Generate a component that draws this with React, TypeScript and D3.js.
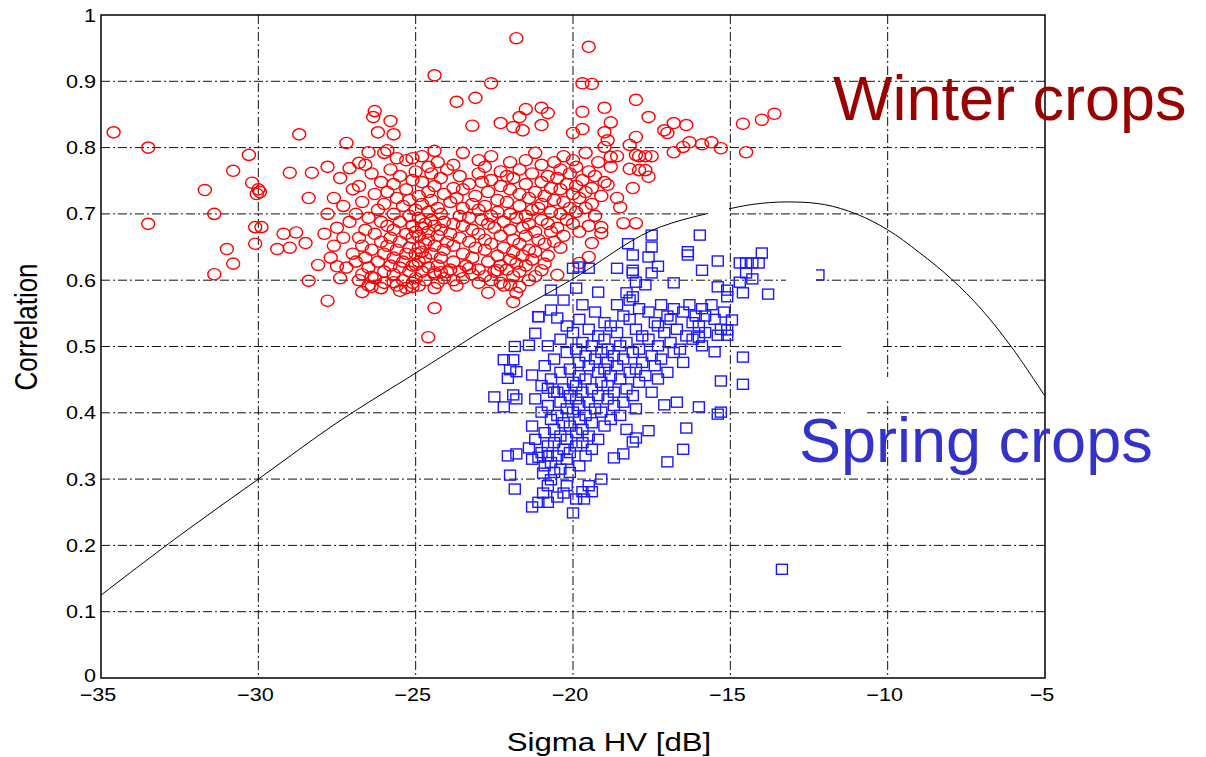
import React from 'react'
import * as d3 from 'd3'

const W = 1206
const H = 757
const M = { left: 101, right: 1045, top: 15, bottom: 678 }

const X_TICKS = [-35, -30, -25, -20, -15, -10, -5]
const Y_TICKS = [0, 0.1, 0.2, 0.3, 0.4, 0.5, 0.6, 0.7, 0.8, 0.9, 1]

// separation curve (Sigma HV, correlation)
const curveX = [-35, -32.5, -30, -27.5, -25, -24.2, -22.5, -20, -17.5, -15, -14, -13, -12, -11, -10, -9, -8, -7, -6, -5]
const curveY = [0.125, 0.215, 0.3, 0.385, 0.46, 0.484, 0.535, 0.602, 0.675, 0.708, 0.716, 0.718, 0.714, 0.7, 0.676, 0.642, 0.603, 0.555, 0.495, 0.425]

// winter crops, scattered points
const winterOutliers: [number, number][] = [
  [-34.6, 0.823], [-33.5, 0.8], [-33.5, 0.685], [-31.7, 0.736], [-31.4, 0.7], [-31.0, 0.647], [-30.8, 0.625],
  [-31.4, 0.609], [-30.8, 0.765], [-30.3, 0.789], [-30.2, 0.747], [-30.0, 0.737], [-29.95, 0.733], [-30.05, 0.73],
  [-30.1, 0.68], [-29.9, 0.68], [-30.1, 0.655], [-29.4, 0.647], [-29.0, 0.649], [-29.2, 0.67], [-28.8, 0.672],
  [-28.7, 0.82], [-29.0, 0.762], [-28.3, 0.762], [-27.8, 0.771], [-28.4, 0.724], [-28.5, 0.656], [-28.4, 0.599],
  [-27.8, 0.569], [-28.1, 0.623], [-27.5, 0.621], [-27.2, 0.807], [-27.1, 0.769], [-26.8, 0.777], [-26.5, 0.793],
  [-26.3, 0.855], [-26.35, 0.846], [-25.8, 0.84], [-26.2, 0.823], [-25.7, 0.82], [-25.9, 0.796], [-25.6, 0.784],
  [-25.1, 0.784], [-24.4, 0.795], [-24.4, 0.909], [-24.4, 0.558], [-24.6, 0.514], [-26.7, 0.582], [-26.4, 0.59],
  [-25.7, 0.597], [-25.5, 0.584], [-25.1, 0.59], [-26.4, 0.605], [-25.0, 0.623],
  [-21.8, 0.965], [-19.5, 0.952], [-22.6, 0.897], [-19.7, 0.897], [-19.4, 0.896], [-23.7, 0.869], [-23.1, 0.875],
  [-18.0, 0.872], [-21.5, 0.858], [-21.0, 0.86], [-20.8, 0.852], [-21.7, 0.846], [-19.7, 0.854], [-19.0, 0.86],
  [-17.6, 0.846], [-23.2, 0.833], [-22.3, 0.837], [-21.9, 0.831], [-21.6, 0.826], [-21.0, 0.834], [-18.8, 0.838],
  [-20.0, 0.822], [-19.7, 0.828], [-19.0, 0.823], [-18.9, 0.811], [-18.0, 0.816], [-18.2, 0.804], [-17.1, 0.826],
  [-17.0, 0.822], [-16.8, 0.837], [-16.4, 0.834], [-16.3, 0.808], [-16.5, 0.801], [-16.8, 0.793], [-15.9, 0.805],
  [-15.6, 0.808], [-15.3, 0.799], [-14.6, 0.836], [-14.0, 0.842], [-13.6, 0.851], [-14.5, 0.793], [-19.0, 0.801],
  [-18.8, 0.786], [-18.6, 0.787], [-18.0, 0.789], [-17.9, 0.787], [-17.7, 0.787], [-17.5, 0.787], [-18.2, 0.768],
  [-17.9, 0.766], [-17.7, 0.766], [-17.6, 0.756], [-18.1, 0.739], [-18.4, 0.686], [-18.0, 0.686], [-18.6, 0.724],
  [-18.5, 0.71], [-18.9, 0.744], [-19.1, 0.68], [-19.1, 0.671], [-19.4, 0.656], [-19.5, 0.635], [-19.8, 0.626],
  [-22.7, 0.581], [-22.3, 0.596], [-22.0, 0.593], [-21.7, 0.59], [-21.9, 0.567], [-21.8, 0.581], [-23.3, 0.618],
  [-22.4, 0.615], [-21.0, 0.615], [-20.5, 0.608], [-24.4, 0.612], [-24.2, 0.612], [-24.0, 0.612],
]

// winter crops, dense core: [correlation, sigma values...]
const winterCore: [number, number[]][] = [
  [0.792, [-26.0, -23.5, -21.2, -19.6]],
  [0.787, [-24.8, -22.6, -20.3]],
  [0.781, [-25.3, -23.0, -21.5, -20.0]],
  [0.778, [-24.3, -22.0, -20.6, -19.2]],
  [0.774, [-26.6, -23.8, -21.0]],
  [0.771, [-24.6, -22.8, -19.9, -18.8]],
  [0.767, [-25.8, -24.0, -21.7, -20.4]],
  [0.764, [-25.0, -22.3, -19.5]],
  [0.761, [-26.4, -24.5, -23.0, -21.3, -20.1]],
  [0.757, [-25.5, -23.6, -22.1, -20.8, -19.3]],
  [0.754, [-27.4, -24.2, -21.9, -20.5]],
  [0.751, [-25.1, -22.6, -19.7]],
  [0.748, [-26.1, -24.8, -22.9, -21.0, -19.0]],
  [0.745, [-25.7, -23.3, -21.5, -20.2]],
  [0.742, [-26.8, -24.4, -22.3, -19.9]],
  [0.739, [-23.8, -20.7, -19.4]],
  [0.737, [-27.0, -25.3, -23.5, -22.0, -20.4]],
  [0.733, [-25.9, -24.6, -22.7, -21.2, -19.6]],
  [0.73, [-26.3, -24.1, -21.7, -20.0]],
  [0.727, [-24.9, -23.1, -20.9, -19.1]],
  [0.724, [-27.6, -25.6, -23.7, -21.4, -19.8]],
  [0.721, [-25.2, -24.5, -22.4, -20.6]],
  [0.718, [-26.7, -23.9, -22.1, -20.3]],
  [0.715, [-26.0, -24.8, -23.2, -21.0, -19.4]],
  [0.712, [-27.3, -25.4, -22.8, -21.7]],
  [0.709, [-24.3, -23.5, -21.1, -20.1, -19.6]],
  [0.706, [-26.2, -25.0, -23.0, -21.3]],
  [0.703, [-24.6, -22.4, -20.7, -19.9]],
  [0.7, [-27.8, -26.9, -25.7, -24.2, -22.0, -20.4]],
  [0.697, [-25.2, -23.6, -22.6, -21.5, -19.3]],
  [0.694, [-26.5, -24.9, -23.3, -21.8]],
  [0.691, [-24.5, -22.9, -21.0, -20.2]],
  [0.688, [-27.1, -26.1, -25.5, -24.1, -22.2]],
  [0.685, [-24.7, -23.8, -22.7, -21.4, -20.8, -20.0]],
  [0.682, [-25.9, -25.1, -24.4, -23.5, -19.5]],
  [0.679, [-27.5, -24.8, -22.5, -21.6, -20.5]],
  [0.676, [-26.6, -25.7, -24.2, -23.2, -22.0]],
  [0.673, [-25.0, -24.6, -21.2, -20.7, -19.8]],
  [0.67, [-27.9, -26.3, -25.3, -23.9, -23.0]],
  [0.667, [-24.9, -24.3, -22.3, -21.5, -20.3]],
  [0.664, [-27.3, -26.8, -25.8, -25.1, -23.6]],
  [0.661, [-24.6, -22.8, -21.9, -21.1]],
  [0.658, [-26.1, -25.5, -24.0, -23.3, -20.6]],
  [0.655, [-24.7, -22.6, -21.7, -20.9]],
  [0.652, [-27.6, -26.7, -25.9, -24.4, -23.8]],
  [0.649, [-25.2, -24.9, -23.1, -22.2, -20.4]],
  [0.646, [-26.4, -25.6, -24.1, -22.8, -21.4]],
  [0.643, [-24.8, -21.9, -21.2]],
  [0.64, [-27.0, -26.0, -25.3, -25.0, -24.5, -23.5]],
  [0.637, [-22.4, -21.6, -20.8]],
  [0.634, [-27.7, -26.6, -25.7, -24.7, -24.2, -23.2]],
  [0.631, [-22.0, -21.3]],
  [0.628, [-26.9, -26.2, -25.4, -24.9, -23.8, -22.7]],
  [0.625, [-21.8, -20.9]],
  [0.622, [-25.8, -25.1, -24.3, -23.4, -22.3, -21.5]],
  [0.619, [-27.2, -26.5, -25.5, -24.6]],
  [0.616, [-23.9, -23.0, -22.1]],
  [0.613, [-26.0, -25.2, -24.8, -23.6, -22.5, -21.7]],
  [0.609, [-26.7, -25.7, -24.4, -23.2]],
  [0.606, [-22.8, -21.9, -21.2]],
  [0.603, [-27.4, -26.3, -25.0, -24.1, -23.5]],
  [0.6, [-26.8, -25.4, -24.7, -23.8, -22.6, -21.4]],
  [0.596, [-26.0, -25.1, -24.3, -23.0]],
  [0.592, [-26.5, -25.6, -24.9, -23.7, -22.2]],
  [0.588, [-26.1, -25.3, -24.4]],
]

// spring crops, scattered points
const springOutliers: [number, number][] = [
  [-15.97, 0.668], [-17.5, 0.668], [-18.25, 0.655], [-17.5, 0.65], [-18.1, 0.638], [-17.6, 0.635], [-17.3, 0.621],
  [-16.35, 0.643], [-16.35, 0.638], [-15.4, 0.629], [-15.9, 0.615], [-18.6, 0.618], [-18.1, 0.615], [-18.1, 0.611],
  [-17.5, 0.611], [-20.0, 0.618], [-19.8, 0.62], [-19.5, 0.618], [-16.8, 0.596], [-17.7, 0.593], [-18.0, 0.597],
  [-19.9, 0.588], [-19.2, 0.582], [-18.3, 0.581], [-18.1, 0.575], [-18.2, 0.57], [-20.7, 0.585], [-20.3, 0.57],
  [-19.7, 0.563], [-20.5, 0.543], [-21.1, 0.545], [-20.7, 0.555], [-14.7, 0.626], [-14.5, 0.626], [-14.3, 0.626],
  [-14.1, 0.626], [-14.0, 0.641], [-14.5, 0.611], [-14.3, 0.602], [-14.7, 0.597], [-14.6, 0.581], [-13.8, 0.579],
  [-15.4, 0.59], [-15.1, 0.585], [-15.1, 0.575], [-14.95, 0.54], [-15.1, 0.525], [-15.1, 0.517], [-15.4, 0.517],
  [-16.0, 0.514], [-14.6, 0.484], [-15.5, 0.492], [-15.3, 0.448], [-14.6, 0.443], [-16.4, 0.377], [-16.5, 0.345],
  [-17.0, 0.326], [-16.0, 0.409], [-15.4, 0.398], [-15.3, 0.401], [-16.7, 0.416], [-17.1, 0.412], [-17.6, 0.373],
  [-18.0, 0.362], [-18.1, 0.356], [-18.4, 0.338], [-18.7, 0.332], [-19.1, 0.3], [-19.4, 0.281], [-19.7, 0.281],
  [-19.9, 0.27], [-19.65, 0.27], [-20.0, 0.249], [-20.3, 0.279], [-20.5, 0.273], [-20.8, 0.265], [-21.1, 0.265],
  [-21.3, 0.258], [-20.95, 0.279], [-21.85, 0.285], [-22.0, 0.306], [-22.07, 0.335], [-21.8, 0.338], [-21.4, 0.347],
  [-21.1, 0.333], [-20.8, 0.335], [-20.95, 0.309], [-20.7, 0.299], [-22.5, 0.424], [-21.9, 0.427], [-21.8, 0.421],
  [-22.2, 0.409], [-20.8, 0.437], [-20.6, 0.431], [-21.85, 0.5], [-21.4, 0.502], [-21.2, 0.52], [-21.1, 0.545],
  [-22.2, 0.48], [-21.9, 0.48], [-22.0, 0.465], [-22.07, 0.452], [-21.8, 0.462], [-21.3, 0.457], [-13.36, 0.164],
  [-12.2, 0.608],
]

// spring crops, dense band
const springCore: [number, number[]][] = [
  [0.563, [-18.6, -17.2, -16.3, -15.6]],
  [0.557, [-17.9, -16.8, -15.9]],
  [0.552, [-19.3, -17.6, -16.5, -15.2]],
  [0.546, [-18.4, -17.0, -16.1, -15.8]],
  [0.541, [-19.8, -18.2, -16.9, -15.5]],
  [0.536, [-19.0, -17.4, -16.2]],
  [0.531, [-20.2, -18.8, -17.3, -16.0]],
  [0.526, [-19.5, -18.0, -16.7, -15.3]],
  [0.521, [-20.0, -18.6, -17.1, -15.8]],
  [0.516, [-19.2, -17.8, -16.4]],
  [0.511, [-20.4, -19.0, -17.6, -16.2]],
  [0.506, [-19.7, -18.3, -16.9]],
  [0.501, [-20.8, -19.4, -18.5, -17.3, -15.9]],
  [0.496, [-19.9, -18.9, -17.9, -16.6]],
  [0.491, [-20.2, -19.1, -18.1, -16.8]],
  [0.486, [-19.6, -18.7, -17.5]],
  [0.481, [-20.6, -19.3, -18.4, -17.2]],
  [0.476, [-19.8, -18.9, -17.8, -16.5]],
  [0.471, [-20.9, -19.5, -18.6, -17.4]],
  [0.466, [-20.1, -19.0, -18.0]],
  [0.461, [-20.4, -19.2, -18.2, -17.0]],
  [0.456, [-19.8, -18.8, -17.7]],
  [0.451, [-20.7, -19.6, -18.5, -17.3]],
  [0.446, [-20.0, -19.1, -17.9]],
  [0.441, [-21.0, -19.9, -18.9]],
  [0.436, [-20.3, -19.4, -18.3]],
  [0.431, [-20.5, -19.7, -18.7, -17.5]],
  [0.426, [-20.1, -19.2, -18.1]],
  [0.421, [-21.2, -19.9, -18.9]],
  [0.416, [-20.4, -19.5, -18.4]],
  [0.411, [-20.8, -19.8, -18.7]],
  [0.406, [-20.2, -19.3, -18.0]],
  [0.401, [-21.0, -20.0, -19.1]],
  [0.396, [-20.5, -19.6, -18.5]],
  [0.39, [-20.7, -19.8, -18.8]],
  [0.385, [-20.3, -19.4]],
  [0.38, [-21.3, -20.1, -19.0]],
  [0.375, [-20.6, -19.7, -18.3]],
  [0.37, [-20.9, -19.9]],
  [0.365, [-20.4, -19.5]],
  [0.36, [-21.2, -20.2, -19.2]],
  [0.355, [-20.6, -19.7]],
  [0.35, [-20.8, -19.9]],
  [0.345, [-20.3, -19.4]],
  [0.34, [-21.0, -20.1]],
  [0.335, [-20.5, -19.6]],
  [0.33, [-21.3, -20.2]],
  [0.325, [-20.7]],
  [0.32, [-20.9, -19.8]],
  [0.315, [-20.4]],
  [0.31, [-20.6, -20.1]],
  [0.29, [-20.8, -20.2, -19.5]],
]

const flatten = (rows: [number, number[]][]) =>
  rows.flatMap(([v, xs]) => xs.map((s) => [s, v] as [number, number]))

const winterPts = winterOutliers.concat(flatten(winterCore))
const springPts = springOutliers.concat(flatten(springCore))

const FONT = '"Liberation Sans", Arial, Helvetica, sans-serif'
const GRID_DASH = '9,3,2,3'

export default function App() {
  const x = d3.scaleLinear().domain([-35, -5]).range([M.left, M.right])
  const y = d3.scaleLinear().domain([0, 1]).range([M.bottom, M.top])

  const line = d3.line<number>()
    .x((d) => x(curveX[d]))
    .y((d) => y(curveY[d]))
    .curve(d3.curveCatmullRom)
  const curvePath = line(curveX.map((_, i) => i)) || ''

  const fmtY = (v: number) => (v === 0 || v === 1 ? String(v) : v.toFixed(1))
  const fmtX = (v: number) => (v < 0 ? '\u2212' + Math.abs(v) : String(v))

  return (
    <div style={{ position: 'absolute', left: 0, top: 0 }}>
      <svg width={W} height={H} style={{ display: 'block', background: '#fff' }} fontFamily={FONT}>
        <rect width={W} height={H} fill="#fff" />

        {/* grid */}
        <g stroke="#111" strokeWidth={1} strokeDasharray={GRID_DASH}>
          {Y_TICKS.filter((t) => t > 0 && t < 1).map((t) => (
            <line key={'gy' + t} x1={M.left} x2={M.right} y1={y(t)} y2={y(t)} />
          ))}
          {X_TICKS.filter((t) => t > -35 && t < -5).map((t) => (
            <line key={'gx' + t} x1={x(t)} x2={x(t)} y1={M.top} y2={M.bottom} />
          ))}
        </g>

        {/* winter crops */}
        <g fill="none" stroke="#ff0000" strokeWidth={1.4}>
          {winterPts.map((p, i) => (
            <ellipse key={'w' + i} cx={x(p[0])} cy={y(p[1])} rx={6.5} ry={5.6} />
          ))}
        </g>

        {/* spring crops */}
        <g fill="none" stroke="#1a1aff" strokeWidth={1.4}>
          {springPts.map((p, i) => (
            <rect key={'s' + i} x={x(p[0]) - 5.5} y={y(p[1]) - 5} width={11} height={10} />
          ))}
        </g>

        {/* separation curve */}
        <path d={curvePath} fill="none" stroke="#000" strokeWidth={1} />

        {/* white patches left over from the label boxes */}
        <g fill="#fff">
          <rect x={708} y={199} width={21} height={20} />
          <rect x={786} y={264} width={30} height={26} />
          <rect x={842} y={338} width={40} height={16} />
          <rect x={845} y={405} width={22} height={16} />
          <rect x={883} y={377} width={12} height={23} />
        </g>

        {/* axes box */}
        <rect x={M.left} y={M.top} width={M.right - M.left} height={M.bottom - M.top}
          fill="none" stroke="#000" strokeWidth={1.5} />

        {/* y tick labels */}
        <g fontSize={18} fill="#000" textAnchor="end">
          {Y_TICKS.map((t) => (
            <text key={'ly' + t} transform={`translate(${M.left - 5},${y(t) + (t === 0 ? 4 : 6.5)}) scale(1.2,1)`}>{fmtY(t)}</text>
          ))}
        </g>

        {/* x tick labels */}
        <g fontSize={18} fill="#000" textAnchor="middle">
          {X_TICKS.map((t) => (
            <text key={'lx' + t} transform={`translate(${x(t) - 3},${M.bottom + 23}) scale(1.2,1)`}>{fmtX(t)}</text>
          ))}
        </g>

        {/* axis titles */}
        <text transform={`translate(${609},${751}) scale(1.2,1)`} textAnchor="middle" fontSize={26} fill="#000">
          Sigma HV [dB]
        </text>
        <text transform={`translate(${37},${327}) rotate(-90) scale(1,1.2)`} textAnchor="middle" fontSize={26} fill="#000">
          Correlation
        </text>

        {/* series labels */}
        <text x={833} y={120} fontSize={63} fill="#990000">Winter crops</text>
        <text x={799} y={462} fontSize={63} fill="#3333cc">Spring crops</text>
      </svg>
    </div>
  )
}
